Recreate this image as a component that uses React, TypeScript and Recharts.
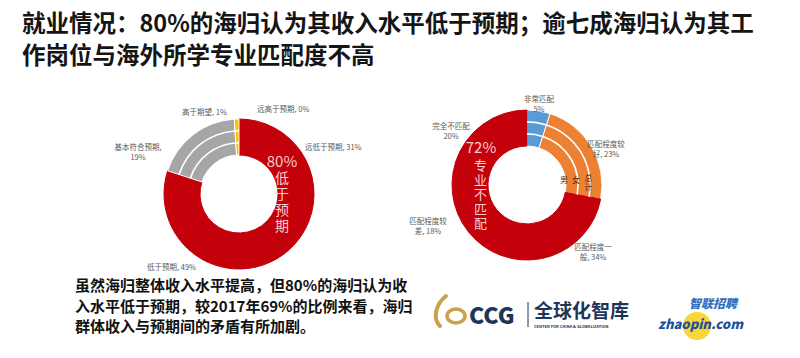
import React from 'react';
import { PieChart, Pie, Cell } from 'recharts';

// ---------- data ----------
const incomeCategories = ['远低于预期', '低于预期', '基本符合预期', '高于期望', '远高于预期'];
const incomeValues = [31, 49, 19, 1, 0];
const incomeLabelLines = [['远低于预期, 31%'], ['低于预期, 49%'], ['基本符合预期,', '19%'], ['高于期望, 1%'], ['远高于预期, 0%']];

const matchCategories = ['非常匹配', '匹配程度较好', '匹配程度一般', '匹配程度较差', '完全不匹配'];
const matchValues = [5, 23, 34, 18, 20];
const matchLabelLines = [['非常匹配', '5%'], ['匹配程度较', '好, 23%'], ['匹配程度一', '般, 34%'], ['匹配程度较', '差, 18%'], ['完全不匹配', '20%']];

const ringNames = ['男', '女', '总计'];
const titleLines = ['就业情况：80%的海归认为其收入水平低于预期；逾七成海归认为其工', '作岗位与海外所学专业匹配度不高'];
const noteLines = ['虽然海归整体收入水平提高，但80%的海归认为收', '入水平低于预期，较2017年69%的比例来看，海归', '群体收入与预期间的矛盾有所加剧。'];
const leftCenterPct = '80%';
const leftCenterWords = '低于预期';
const rightCenterPct = '72%';
const rightCenterWords = '专业不匹配';

// ---------- styling / layout ----------
const RED = '#C4000B';
const GRAY = '#A6A6A6';
const YELLOW = '#FFC000';
const ORANGE = '#EC8033';
const BLUE = '#5B9BD5';
const incomeColors = [RED, RED, GRAY, YELLOW, YELLOW];
const matchColors = [BLUE, ORANGE, RED, RED, RED];

const FONT = '"Noto Sans CJK SC", "Noto Sans", sans-serif';
const L = { cx: 234, cy: 189 };
const R = { cx: 522, cy: 180 };
const INNER = 39;
const OUTER = 75;

// label offsets relative to pie centre: [dx, dy, anchor]
const incomeLabelPos: [number, number, string][] = [
  [66, -44, 'start'],
  [-92, 76, 'start'],
  [-101, -44, 'middle'],
  [-57, -79, 'start'],
  [18, -82, 'start'],
];
const matchLabelPos: [number, number, string][] = [
  [12, -83, 'middle'],
  [79, -38, 'middle'],
  [66, 65, 'middle'],
  [-99, 39, 'middle'],
  [-76, -56, 'middle'],
];

const makeLabel = (pos: [number, number, string][], lines: string[][]) => (props: any) => {
  const { cx, cy, index } = props;
  const [dx, dy, anchor] = pos[index];
  return (
    <text
      key={`lab-${index}`}
      x={cx + dx}
      y={cy + dy}
      textAnchor={anchor as any}
      fontFamily={FONT}
      fontSize={7.5}
      fill="#595959"
    >
      {lines[index].map((t, i) => (
        <tspan key={i} x={cx + dx} dy={i === 0 ? 0 : 10}>
          {t}
        </tspan>
      ))}
    </text>
  );
};

const toData = (cats: string[], vals: number[]) => cats.map((name, i) => ({ name, value: vals[i] }));

const incomeData = toData(incomeCategories, incomeValues);
const matchData = toData(matchCategories, matchValues);

function Donut({ data, colors, c, labelPos, lines, id }: any) {
  const bands = [
    [50.3, 51.9],
    [62.3, 63.9],
  ];
  return [
    <Pie
      key={`${id}-main`}
      data={data}
      dataKey="value"
      cx={c.cx}
      cy={c.cy}
      innerRadius={INNER}
      outerRadius={OUTER}
      startAngle={90}
      endAngle={-270}
      isAnimationActive={false}
      labelLine={false}
      label={makeLabel(labelPos, lines)}
    >
      {data.map((d: any, i: number) => (
        <Cell key={i} fill={colors[i]} stroke={colors[i] === RED ? RED : '#ffffff'} strokeWidth={1} />
      ))}
    </Pie>,
    ...bands.map((b, bi) => (
      <Pie
        key={`${id}-band-${bi}`}
        data={data}
        dataKey="value"
        cx={c.cx}
        cy={c.cy}
        innerRadius={b[0]}
        outerRadius={b[1]}
        startAngle={90}
        endAngle={-270}
        isAnimationActive={false}
        stroke="none"
      >
        {data.map((d: any, i: number) => (
          <Cell key={i} fill={colors[i] === RED ? 'none' : '#ffffff'} />
        ))}
      </Pie>
    )),
  ];
}

const vertical = (left: number, top: number, size: number, spacing: number, color: string): React.CSSProperties => ({
  position: 'absolute',
  left,
  top,
  writingMode: 'vertical-rl',
  fontSize: size,
  lineHeight: 1,
  letterSpacing: spacing,
  color,
  fontFamily: FONT,
  whiteSpace: 'nowrap',
});

export default function App() {
  return (
    <div
      style={{
        position: 'fixed',
        left: 0,
        top: 0,
        width: 800,
        height: 358,
        background: '#ffffff',
        overflow: 'hidden',
        fontFamily: FONT,
      }}
    >
      <div style={{ position: 'absolute', left: 0, top: 0 }}>
        <PieChart width={800} height={358}>
          {Donut({ data: incomeData, colors: incomeColors, c: L, labelPos: incomeLabelPos, lines: incomeLabelLines, id: 'inc' })}
          {Donut({ data: matchData, colors: matchColors, c: R, labelPos: matchLabelPos, lines: matchLabelLines, id: 'mat' })}
        </PieChart>
      </div>
      <svg width={800} height={358} style={{ position: 'absolute', left: 0, top: 0, pointerEvents: 'none' }}>
        {/* title */}
        {titleLines.map((t, i) => (
          <text key={i} x={22} y={32 + i * 32} fontFamily={FONT} fontWeight={700} fontSize={23.5} fill="#151515">
            {t}
          </text>
        ))}
        {/* percentages in rings */}
        <text x={L.cx + 48} y={L.cy - 22} textAnchor="middle" fontFamily={FONT} fontSize={15} fill="#F7CFCF">
          {leftCenterPct}
        </text>
        <text x={R.cx - 41} y={R.cy - 27} textAnchor="middle" fontFamily={FONT} fontSize={15} fill="#F7CFCF">
          {rightCenterPct}
        </text>
        {/* ring names in orange */}
        <text x={R.cx + 42} y={R.cy + 3} textAnchor="middle" fontFamily={FONT} fontSize={8} fill="#5a2a10">{ringNames[0]}</text>
        <text x={R.cx + 54} y={R.cy + 3} textAnchor="middle" fontFamily={FONT} fontSize={8} fill="#5a2a10">{ringNames[1]}</text>
        {/* note */}
        {noteLines.map((t, i) => (
          <text key={`n${i}`} x={75} y={291 + i * 20.5} fontFamily={FONT} fontWeight={700} fontSize={15} fill="#111111">
            {t}
          </text>
        ))}
        {/* CCG logo */}
        <g>
          <path d="M446 296 C 436 304, 432 318, 440 326" stroke="#C9A24A" strokeWidth={4} fill="none" strokeLinecap="round" />
          <ellipse cx={456} cy={316} rx={9} ry={7} stroke="#C9A24A" strokeWidth={3.5} fill="none" />
          <text x={469} y={324} fontFamily={FONT} fontWeight={900} fontSize={23} fill="#1D3557">CCG</text>
          <line x1={528} y1={302} x2={528} y2={327} stroke="#1D3557" strokeWidth={1} />
          <text x={534} y={318} fontFamily={FONT} fontWeight={700} fontSize={19} fill="#1D3557">全球化智库</text>
          <text x={534} y={328} fontFamily={FONT} fontWeight={700} fontSize={4} fill="#1D3557">CENTER FOR CHINA &amp; GLOBALIZATION</text>
        </g>
        {/* zhaopin logo */}
        <g>
          <circle cx={697} cy={326} r={14} fill="#F7D73A" />
          <text x={689} y={308} fontFamily={FONT} fontWeight={900} fontStyle="italic" fontSize={12} fill="#2E6FC0">智联招聘</text>
          <text x={658} y={329} fontFamily={FONT} fontWeight={900} fontStyle="italic" fontSize={13} fill="#1F4FA0">zhaopin.com</text>
        </g>
      </svg>
      {/* vertical texts inside the rings */}
      <div style={vertical(L.cx + 41, L.cy - 18, 14, 2, '#F7CFCF')}>{leftCenterWords}</div>
      <div style={vertical(R.cx - 48, R.cy - 21, 13, 1.5, '#F7CFCF')}>{rightCenterWords}</div>
      <div style={vertical(R.cx + 62, R.cy - 6, 8, 1, '#5a2a10')}>{ringNames[2]}</div>
    </div>
  );
}
